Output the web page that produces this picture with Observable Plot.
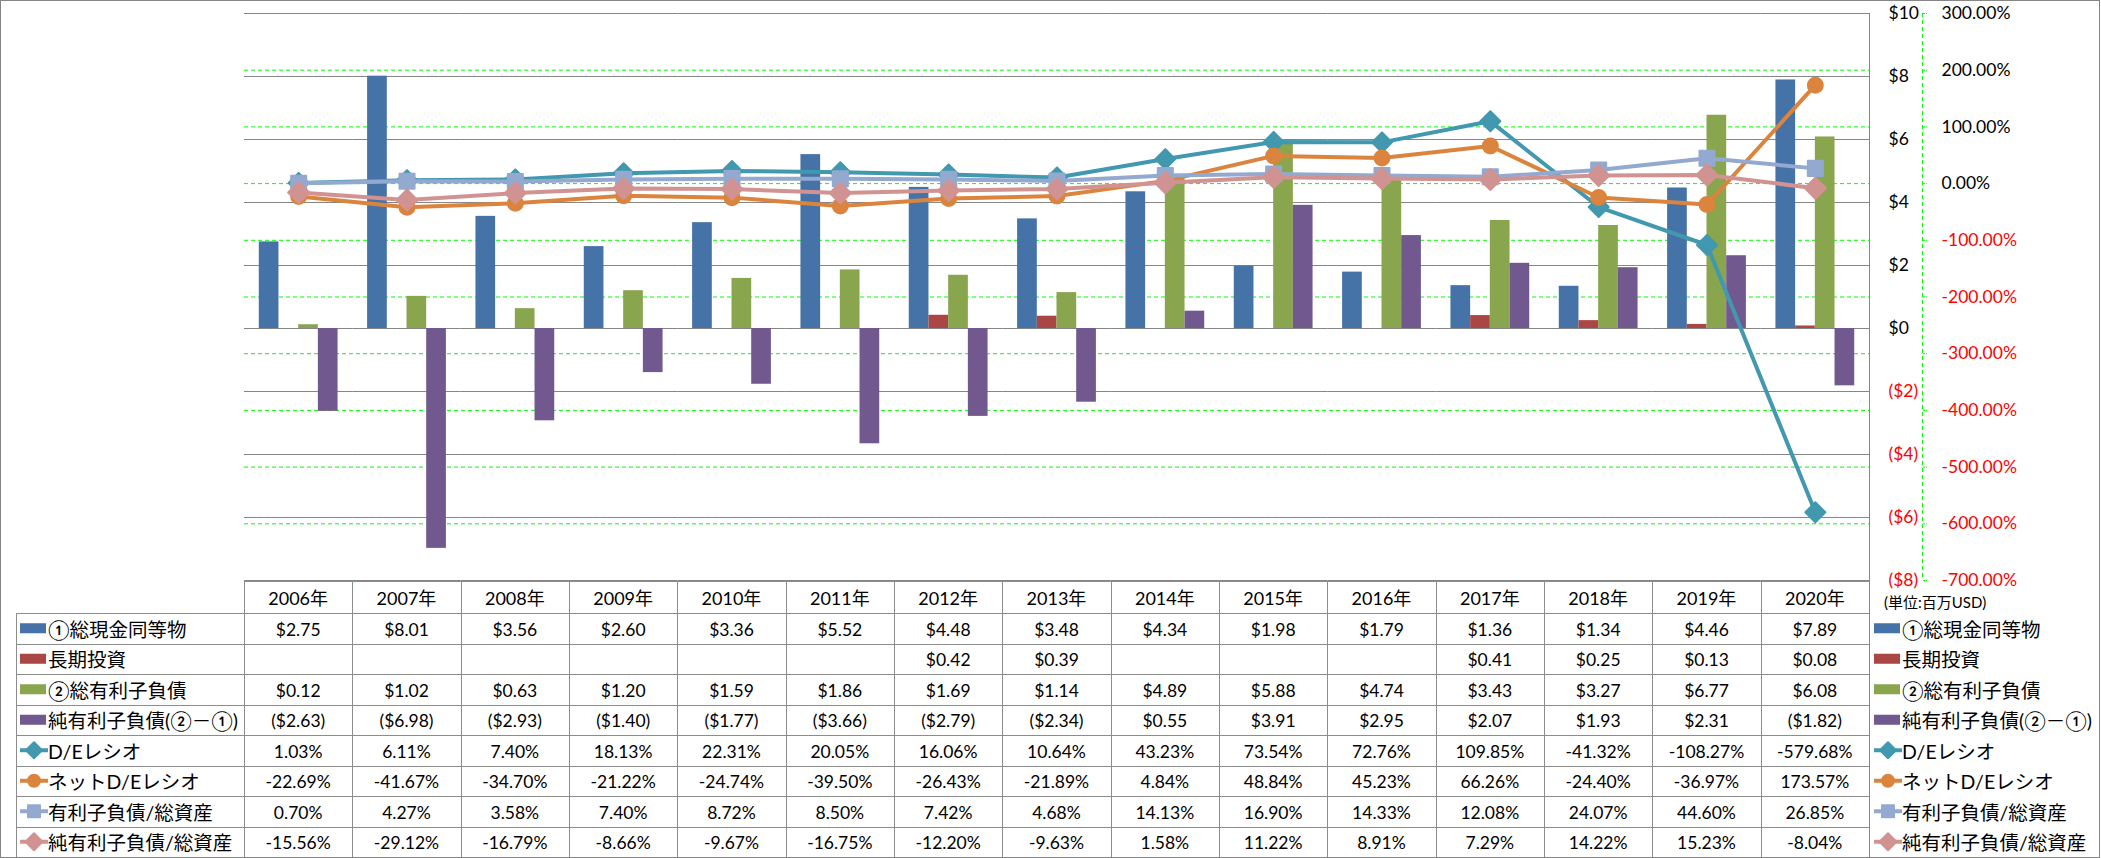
<!DOCTYPE html>
<html>
<head>
<meta charset="utf-8">
<script src="https://cdn.jsdelivr.net/npm/d3@7"></script>
<script src="https://cdn.jsdelivr.net/npm/@observablehq/plot@0.6"></script>
<style>
  html, body { margin: 0; padding: 0; background: #fff; }
  #root { position: relative; width: 2101px; height: 858px; overflow: hidden; background: #fff; }
  .layer { position: absolute; left: 0; top: 0; }
  .layer svg { display: block; }
  #frame { position: absolute; left: 0; top: 0; width: 2100px; height: 858px; border: 1px solid #868686; box-sizing: border-box; pointer-events: none; }
</style>
</head>
<body>
<div id="root">
  <div class="layer" id="layerA"></div>
  <div class="layer" id="layerB"></div>
  <div class="layer" id="layerC"></div>
  <div class="layer" id="layerT"></div>
  <div id="frame"></div>
</div>
<script>
// ---------- data ----------
const years = ["2006年","2007年","2008年","2009年","2010年","2011年","2012年","2013年","2014年","2015年","2016年","2017年","2018年","2019年","2020年"];

const cashNames = "①総現金同等物";
const cash = [2.75, 8.01, 3.56, 2.60, 3.36, 5.52, 4.48, 3.48, 4.34, 1.98, 1.79, 1.36, 1.34, 4.46, 7.89];
const longTermInvestments = [null, null, null, null, null, null, 0.42, 0.39, null, null, null, 0.41, 0.25, 0.13, 0.08];
const interestBearingDebt = [0.12, 1.02, 0.63, 1.20, 1.59, 1.86, 1.69, 1.14, 4.89, 5.88, 4.74, 3.43, 3.27, 6.77, 6.08];
const netInterestBearingDebt = [-2.63, -6.98, -2.93, -1.40, -1.77, -3.66, -2.79, -2.34, 0.55, 3.91, 2.95, 2.07, 1.93, 2.31, -1.82];

const deRatio = [1.03, 6.11, 7.40, 18.13, 22.31, 20.05, 16.06, 10.64, 43.23, 73.54, 72.76, 109.85, -41.32, -108.27, -579.68];
const netDeRatio = [-22.69, -41.67, -34.70, -21.22, -24.74, -39.50, -26.43, -21.89, 4.84, 48.84, 45.23, 66.26, -24.40, -36.97, 173.57];
const debtToAssets = [0.70, 4.27, 3.58, 7.40, 8.72, 8.50, 7.42, 4.68, 14.13, 16.90, 14.33, 12.08, 24.07, 44.60, 26.85];
const netDebtToAssets = [-15.56, -29.12, -16.79, -8.66, -9.67, -16.75, -12.20, -9.63, 1.58, 11.22, 8.91, 7.29, 14.22, 15.23, -8.04];

const dollarTicks = [10, 8, 6, 4, 2, 0, -2, -4, -6, -8];
const percentTicks = [300, 200, 100, 0, -100, -200, -300, -400, -500, -600, -700];

const barNames = ["①総現金同等物", "長期投資", "②総有利子負債", "純有利子負債(②－①)"];
const barValues = [cash, longTermInvestments, interestBearingDebt, netInterestBearingDebt];
const barColors = ["#4572A7", "#AA4643", "#89A54E", "#71588F"];

const lineNames = ["D/Eレシオ", "ネットD/Eレシオ", "有利子負債/総資産", "純有利子負債/総資産"];
const lineValues = [deRatio, netDeRatio, debtToAssets, netDebtToAssets];
const lineColors = ["#4198AF", "#DB843D", "#93A9CF", "#D19392"];
const lineSymbols = ["diamond2", "circle", "square", "diamond2"];
const lineSymbolR = [9, 7.5, 8.5, 9.5];

const unitLabel = "(単位:百万USD)";

// ---------- layout ----------
const FONT = "Lato, 'Noto Sans CJK JP', sans-serif";
const W = 2101, H = 600;
const M = {top: 13, right: 232, bottom: 20, left: 244};
const common = {
  width: W, height: H,
  marginTop: M.top, marginRight: M.right, marginBottom: M.bottom, marginLeft: M.left,
  style: {background: "transparent", fontFamily: FONT, fontSize: "17.5px", overflow: "visible", maxWidth: "none"}
};
const pctFmt = v => v.toFixed(2) + "%";
const usdAxisFmt = v => v < 0 ? `($${-v})` : `$${v}`;
const usdCellFmt = v => v == null ? "" : v < 0 ? `($${(-v).toFixed(2)})` : `$${v.toFixed(2)}`;

const barRows = barNames.flatMap((name, k) =>
  years.map((year, i) => ({year, series: name, value: barValues[k][i]}))
).filter(d => d.value != null);

// Layer A: percent gridlines & percent axis (behind bars)
const layerA = Plot.plot({
  ...common,
  x: {type: "point", domain: years, padding: 0.5, round: false, axis: null},
  y: {domain: [-700, 300], range: [H - M.bottom, M.top]},
  marks: [
    Plot.ruleY(percentTicks, {stroke: "#00ff00", strokeDasharray: "4,3"}),
    Plot.axisY({ticks: percentTicks, anchor: "right", tickSize: 4, dx: 53, stroke: "#00ff00", strokeDasharray: "2,1", fill: "none", tickFormat: () => "", label: null}),
    Plot.axisY({ticks: percentTicks.filter(v => v >= 0), anchor: "right", tickSize: 0, tickPadding: 72, tickFormat: pctFmt, fill: "#000000", label: null}),
    Plot.axisY({ticks: percentTicks.filter(v => v < 0), anchor: "right", tickSize: 0, tickPadding: 72, tickFormat: pctFmt, fill: "#ff0000", label: null})
  ]
});
document.getElementById("layerA").append(layerA);

// Layer B: dollar gridlines, bars, dollar axis
const layerB = Plot.plot({
  ...common,
  fx: {domain: years, padding: 0, round: false, axis: null, label: null},
  x: {domain: barNames, paddingInner: 0, paddingOuter: 0.75, round: false, axis: null},
  y: {domain: [-8, 10], range: [H - M.bottom, M.top]},
  color: {domain: barNames, range: barColors},
  marks: [
    Plot.ruleY(dollarTicks, {stroke: "#868686"}),
    Plot.barY(barRows, {fx: "year", x: "series", y: "value", fill: "series"}),
    Plot.axisY({ticks: dollarTicks.filter(v => v >= 0), anchor: "right", tickSize: 0, tickPadding: 19, tickFormat: usdAxisFmt, fill: "#000000", label: null}),
    Plot.axisY({ticks: dollarTicks.filter(v => v < 0), anchor: "right", tickSize: 0, tickPadding: 19, tickFormat: usdAxisFmt, fill: "#ff0000", label: null})
  ]
});
document.getElementById("layerB").append(layerB);

// Layer C: ratio lines with markers
const lineMarks = lineNames.flatMap((name, k) => {
  const rows = years.map((year, i) => ({year, series: name, value: lineValues[k][i]}));
  return [
    Plot.line(rows, {x: "year", y: "value", stroke: lineColors[k], strokeWidth: 4, strokeLinejoin: "round", strokeLinecap: "round"}),
    Plot.dot(rows, {x: "year", y: "value", symbol: lineSymbols[k], r: lineSymbolR[k], fill: lineColors[k], stroke: lineColors[k], strokeWidth: 2, strokeLinejoin: "round"})
  ];
});
const layerC = Plot.plot({
  ...common,
  x: {type: "point", domain: years, padding: 0.5, round: false, axis: null},
  y: {domain: [-700, 300], range: [H - M.bottom, M.top], axis: null},
  marks: lineMarks
});
document.getElementById("layerC").append(layerC);

// ---------- data table + legend (positions from the plot scales) ----------
const xs = layerC.scale("x");
const yB = layerB.scale("y");
const yA = layerA.scale("y");
const centers = years.map(y => xs.apply(y));
const step = centers[1] - centers[0];
const frameLeft = M.left, frameRight = W - M.right;
const T = {top: 580.5, headBottom: 613, rowH: 30.5, left: 16};
const nRows = 8;
const tBottom = T.headBottom + nRows * T.rowH;
const rowCenter = i => T.headBottom + (i + 0.5) * T.rowH;
const crisp = v => Math.round(v) + 0.5;

const svg = d3.select("#layerT").append("svg")
  .attr("width", W).attr("height", 858)
  .style("font-family", FONT);

const grid = svg.append("g").attr("stroke", "#8c8c8c").attr("stroke-width", 1).attr("shape-rendering", "crispEdges");
// dollar axis line at right of plot area, continuing as table right edge
grid.append("line").attr("x1", crisp(frameRight)).attr("x2", crisp(frameRight))
  .attr("y1", yB.apply(10)).attr("y2", tBottom).attr("stroke", "#868686");
// header top
grid.append("line").attr("x1", frameLeft).attr("x2", frameRight).attr("y1", crisp(T.top)).attr("y2", crisp(T.top));
// horizontal row lines
for (let i = 0; i <= nRows; i++) {
  const y = crisp(T.headBottom + i * T.rowH);
  grid.append("line").attr("x1", T.left).attr("x2", frameRight).attr("y1", y).attr("y2", y);
}
// left edge of label column
grid.append("line").attr("x1", crisp(T.left)).attr("x2", crisp(T.left)).attr("y1", T.headBottom).attr("y2", tBottom);
// column separators
centers.forEach(c => {
  const x = crisp(c - step / 2);
  grid.append("line").attr("x1", x).attr("x2", x).attr("y1", T.top).attr("y2", tBottom);
});

// percent axis line (green dashed)
svg.append("line").attr("x1", 1922.5).attr("x2", 1922.5)
  .attr("y1", yA.apply(300)).attr("y2", yA.apply(-700))
  .attr("stroke", "#00ff00").attr("stroke-dasharray", "4,3");

// header
years.forEach((yr, i) => {
  svg.append("text").attr("x", centers[i]).attr("y", (T.top + T.headBottom) / 2 + 1)
    .attr("text-anchor", "middle").attr("dominant-baseline", "central")
    .attr("font-size", 18).attr("fill", "#000").text(yr);
});

// swatches
function swatch(g, x, y, k) {
  if (k < 4) {
    g.append("rect").attr("x", x).attr("y", y - 5).attr("width", 26).attr("height", 10).attr("fill", barColors[k]);
  } else {
    const j = k - 4;
    g.append("line").attr("x1", x).attr("x2", x + 28).attr("y1", y).attr("y2", y)
      .attr("stroke", lineColors[j]).attr("stroke-width", 4);
    const symMap = {diamond2: d3.symbolDiamond2, circle: d3.symbolCircle, square: d3.symbolSquare};
    const r = lineSymbolR[j] * 0.8;
    g.append("path").attr("transform", `translate(${x + 14},${y})`)
      .attr("d", d3.symbol(symMap[lineSymbols[j]], Math.PI * r * r)())
      .attr("fill", lineColors[j]).attr("stroke", lineColors[j]).attr("stroke-width", 2).attr("stroke-linejoin", "round");
  }
}

const allNames = [...barNames, ...lineNames];
const allValues = [...barValues, ...lineValues];
allNames.forEach((name, k) => {
  const cy = rowCenter(k);
  // label column
  swatch(svg, T.left + 4, cy, k);
  svg.append("text").attr("x", T.left + 32).attr("y", cy + 1)
    .attr("dominant-baseline", "central").attr("font-size", 19.5).attr("fill", "#000").text(name);
  // legend at right
  swatch(svg, 1874, cy, k);
  svg.append("text").attr("x", 1902).attr("y", cy + 1)
    .attr("dominant-baseline", "central").attr("font-size", 19.5).attr("fill", "#000").text(name);
  // values
  allValues[k].forEach((v, i) => {
    const txt = k < 4 ? usdCellFmt(v) : pctFmt(v);
    if (!txt) return;
    svg.append("text").attr("x", centers[i]).attr("y", cy + 1)
      .attr("text-anchor", "middle").attr("dominant-baseline", "central")
      .attr("font-size", 17.5).attr("fill", "#000").text(txt);
  });
});

// unit label
svg.append("text").attr("x", 1884).attr("y", 602).attr("dominant-baseline", "central")
  .attr("font-size", 15).attr("fill", "#000").text(unitLabel);
</script>
</body>
</html>
